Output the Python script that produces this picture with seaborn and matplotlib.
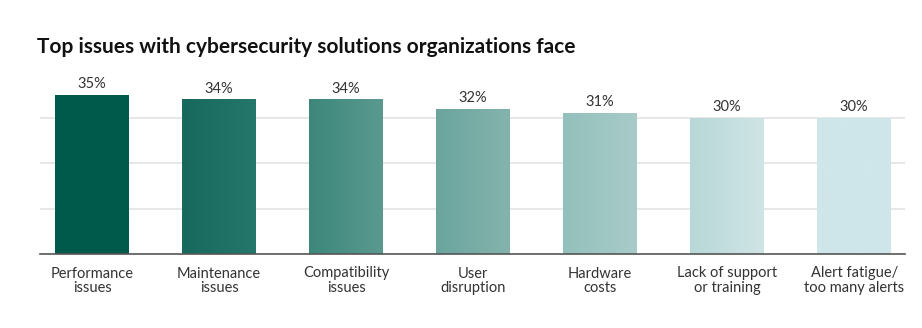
import numpy as np
import pandas as pd
import matplotlib
matplotlib.use("Agg")
import matplotlib.pyplot as plt
from matplotlib.colors import LinearSegmentedColormap
import seaborn as sns

categories = ["Performance\nissues", "Maintenance\nissues", "Compatibility\nissues",
              "User\ndisruption", "Hardware\ncosts", "Lack of support\nor training",
              "Alert fatigue/\ntoo many alerts"]
values = [35, 34, 34, 32, 31, 30, 30]
value_labels = ["35%", "34%", "34%", "32%", "31%", "30%", "30%"]
title = "Top issues with cybersecurity solutions organizations face"

grad_start = ["#005a4b", "#18695d", "#3d877a", "#6aa59d", "#93c0bc", "#b8d8d8", "#cfe6ea"]
grad_end = ["#005a4b", "#26776b", "#5a9990", "#84b3ad", "#a8cbc8", "#cfe4e5", "#cfe6ea"]

sns.set_theme(style="white")
plt.rcParams['font.family'] = ['Lato', 'DejaVu Sans']

df = pd.DataFrame({"cat": categories, "val": values})

fig = plt.figure(figsize=(9.22, 3.28), dpi=100)
ax = fig.add_axes([40/922, 74/328, 865/922, 174/328])

sns.barplot(data=df, x="cat", y="val", ax=ax, width=0.58, color="#005a4b",
            saturation=1, zorder=2)

ax.set_ylim(0, 38.4)
ax.set_xlim(-0.41, 6.40)
ax.set_yticks([10, 20, 30])
ax.yaxis.grid(True, color="#e3e3e3", linewidth=1.2, zorder=0)
ax.set_axisbelow(True)
ax.tick_params(axis="y", left=False, labelleft=False)
ax.tick_params(axis="x", bottom=False, pad=3, labelsize=10.5, colors="#333333")
for lbl in ax.get_xticklabels():
    lbl.set_linespacing(1.05)
ax.set_xlabel("")
ax.set_ylabel("")
for s in ["top", "right", "left"]:
    ax.spines[s].set_visible(False)
ax.spines["bottom"].set_color("#555555")
ax.spines["bottom"].set_linewidth(1.2)
ax.spines["bottom"].set_zorder(5)

grad = np.linspace(0, 1, 64).reshape(1, -1)
for i, p in enumerate(ax.patches):
    x0 = p.get_x()
    w = p.get_width()
    h = p.get_height()
    cmap = LinearSegmentedColormap.from_list(f"g{i}", [grad_start[i], grad_end[i]])
    ax.imshow(grad, cmap=cmap, extent=[x0, x0 + w, 0, h], aspect="auto", zorder=3,
              interpolation="bicubic")
    p.set_facecolor("none")
    p.set_edgecolor("none")
    ax.text(x0 + w / 2, h + 0.9, value_labels[i], ha="center", va="bottom",
            fontsize=10.5, color="#333333", zorder=4)

ax.set_xlim(-0.41, 6.40)
ax.set_ylim(0, 38.4)

fig.text(37/922, 1 - 47/328, title, ha="left", va="center", fontsize=15,
         fontweight="bold", color="#111111")

fig.savefig("out.png", dpi=100)
